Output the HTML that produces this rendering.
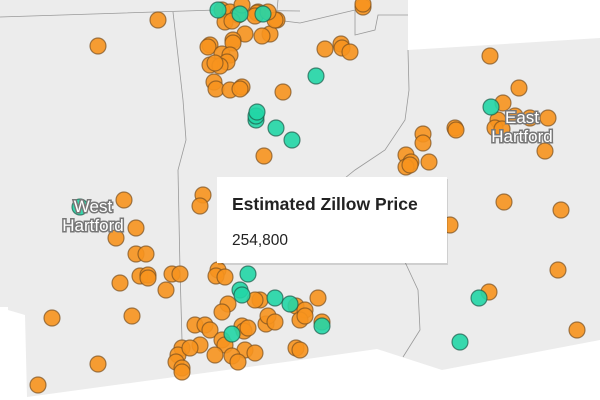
<!DOCTYPE html>
<html><head><meta charset="utf-8"><style>
html,body{margin:0;padding:0;background:#fff;}
svg{display:block;font-family:"Liberation Sans",sans-serif;}
.o{fill:#f7931e;fill-opacity:.9;stroke:#7a5020;stroke-opacity:.7;stroke-width:1.2}
.t{fill:#22d6a6;fill-opacity:.9;stroke:#1c5a48;stroke-opacity:.7;stroke-width:1.2}
.lbl{fill:#fff;stroke:#777;stroke-width:3;paint-order:stroke;font-size:17px;text-anchor:middle;}
</style></head><body>
<svg width="600" height="400" viewBox="0 0 600 400">
<rect width="600" height="400" fill="#fff"/>
<polygon fill="#ececec" points="0,0 408,0 408,50 600,38 600,340 442,370 377,349 300,360 27,397 25,315 8,310 8,307 0,307"/>
<g fill="none" stroke="#999" stroke-width="0.8">
<polyline points="0,17 216,10 300,11"/>
<polyline points="173,12 183,100 186,140 178,170 180,270 182,340"/>
<polyline points="300,23 355,10 355,35 375,30 378,15 408,15"/>
<polyline points="408,50 409,90 405,120 385,150 355,170 345,178"/>
<polyline points="405,262 418,290 420,330 403,357"/>
<polyline points="278,0 276,20 300,23"/>
</g>
<g>
<circle class="o" cx="158" cy="20" r="8"/><circle class="o" cx="98" cy="46" r="8"/>
<circle class="o" cx="222" cy="10" r="8"/><circle class="o" cx="230" cy="12" r="8"/><circle class="o" cx="238" cy="15" r="8"/><circle class="o" cx="242" cy="5" r="8"/><circle class="o" cx="258" cy="12" r="8"/>
<circle class="o" cx="257" cy="13" r="8"/><circle class="o" cx="277" cy="20" r="8"/><circle class="o" cx="225" cy="22" r="8"/><circle class="o" cx="232" cy="21" r="8"/><circle class="o" cx="255" cy="16" r="8"/>
<circle class="o" cx="270" cy="34" r="8"/><circle class="o" cx="262" cy="36" r="8"/><circle class="o" cx="275" cy="20" r="8"/><circle class="o" cx="268" cy="12" r="8"/>
<circle class="o" cx="245" cy="34" r="8"/><circle class="o" cx="233" cy="40" r="8"/><circle class="o" cx="233" cy="43" r="8"/><circle class="o" cx="210" cy="45" r="8"/><circle class="o" cx="208" cy="47" r="8"/>
<circle class="o" cx="222" cy="54" r="8"/><circle class="o" cx="230" cy="55" r="8"/><circle class="o" cx="227" cy="62" r="8"/><circle class="o" cx="210" cy="65" r="8"/><circle class="o" cx="220" cy="66" r="8"/><circle class="o" cx="215" cy="63" r="8"/>
<circle class="o" cx="214" cy="82" r="8"/><circle class="o" cx="216" cy="89" r="8"/><circle class="o" cx="230" cy="90" r="8"/><circle class="o" cx="242" cy="87" r="8"/><circle class="o" cx="240" cy="89" r="8"/><circle class="o" cx="283" cy="92" r="8"/>
<circle class="o" cx="264" cy="156" r="8"/><circle class="o" cx="203" cy="195" r="8"/><circle class="o" cx="124" cy="200" r="8"/>
<circle class="t" cx="218" cy="10" r="8"/><circle class="t" cx="263" cy="14" r="8"/><circle class="t" cx="240" cy="14" r="8"/>
<circle class="t" cx="256" cy="120" r="8"/><circle class="t" cx="256" cy="116" r="8"/><circle class="t" cx="257" cy="112" r="8"/><circle class="t" cx="276" cy="128" r="8"/><circle class="t" cx="292" cy="140" r="8"/>
<circle class="o" cx="363" cy="7" r="8"/><circle class="o" cx="363" cy="4" r="8"/><circle class="o" cx="325" cy="49" r="8"/><circle class="o" cx="341" cy="44" r="8"/><circle class="o" cx="342" cy="48" r="8"/><circle class="o" cx="350" cy="52" r="8"/>
<circle class="t" cx="316" cy="76" r="8"/>
<circle class="o" cx="490" cy="56" r="8"/><circle class="o" cx="519" cy="88" r="8"/><circle class="o" cx="503" cy="103" r="8"/><circle class="o" cx="548" cy="118" r="8"/><circle class="o" cx="545" cy="151" r="8"/>
<circle class="o" cx="498" cy="120" r="8"/><circle class="o" cx="495" cy="128" r="8"/><circle class="o" cx="502" cy="129" r="8"/><circle class="o" cx="515" cy="116" r="8"/><circle class="o" cx="530" cy="118" r="8"/>
<circle class="o" cx="455" cy="128" r="8"/><circle class="o" cx="456" cy="130" r="8"/><circle class="o" cx="423" cy="134" r="8"/><circle class="o" cx="423" cy="143" r="8"/>
<circle class="o" cx="406" cy="155" r="8"/><circle class="o" cx="411" cy="162" r="8"/><circle class="o" cx="406" cy="167" r="8"/><circle class="o" cx="410" cy="165" r="8"/><circle class="o" cx="429" cy="162" r="8"/>
<circle class="t" cx="491" cy="107" r="8"/>
<circle class="o" cx="136" cy="228" r="8"/><circle class="o" cx="116" cy="238" r="8"/><circle class="o" cx="136" cy="254" r="8"/><circle class="o" cx="146" cy="254" r="8"/>
<circle class="o" cx="140" cy="276" r="8"/><circle class="o" cx="148" cy="275" r="8"/><circle class="o" cx="148" cy="278" r="8"/><circle class="o" cx="172" cy="274" r="8"/><circle class="o" cx="180" cy="274" r="8"/>
<circle class="o" cx="166" cy="290" r="8"/><circle class="o" cx="120" cy="283" r="8"/><circle class="o" cx="132" cy="316" r="8"/><circle class="o" cx="52" cy="318" r="8"/><circle class="o" cx="98" cy="364" r="8"/><circle class="o" cx="38" cy="385" r="8"/>
<circle class="o" cx="200" cy="206" r="8"/><circle class="o" cx="218" cy="270" r="8"/><circle class="o" cx="216" cy="276" r="8"/><circle class="o" cx="225" cy="277" r="8"/>
<circle class="o" cx="296" cy="306" r="8"/><circle class="o" cx="260" cy="300" r="8"/><circle class="o" cx="255" cy="300" r="8"/><circle class="o" cx="228" cy="304" r="8"/><circle class="o" cx="222" cy="312" r="8"/>
<circle class="o" cx="195" cy="325" r="8"/><circle class="o" cx="205" cy="325" r="8"/><circle class="o" cx="210" cy="330" r="8"/><circle class="o" cx="242" cy="326" r="8"/><circle class="o" cx="244" cy="331" r="8"/>
<circle class="o" cx="266" cy="324" r="8"/><circle class="o" cx="248" cy="328" r="8"/><circle class="o" cx="268" cy="316" r="8"/><circle class="o" cx="275" cy="322" r="8"/><circle class="o" cx="245" cy="350" r="8"/>
<circle class="o" cx="200" cy="345" r="8"/><circle class="o" cx="222" cy="340" r="8"/><circle class="o" cx="225" cy="345" r="8"/><circle class="o" cx="215" cy="355" r="8"/><circle class="o" cx="232" cy="356" r="8"/><circle class="o" cx="238" cy="362" r="8"/><circle class="o" cx="255" cy="353" r="8"/>
<circle class="o" cx="182" cy="348" r="8"/><circle class="o" cx="178" cy="355" r="8"/><circle class="o" cx="190" cy="348" r="8"/><circle class="o" cx="176" cy="362" r="8"/><circle class="o" cx="182" cy="368" r="8"/><circle class="o" cx="182" cy="372" r="8"/><circle class="o" cx="296" cy="348" r="8"/>
<circle class="o" cx="318" cy="298" r="8"/><circle class="o" cx="322" cy="322" r="8"/><circle class="o" cx="305" cy="310" r="8"/><circle class="o" cx="300" cy="320" r="8"/><circle class="o" cx="305" cy="316" r="8"/><circle class="o" cx="300" cy="350" r="8"/>
<circle class="t" cx="248" cy="274" r="8"/><circle class="t" cx="240" cy="290" r="8"/><circle class="t" cx="242" cy="295" r="8"/><circle class="t" cx="275" cy="298" r="8"/><circle class="t" cx="290" cy="304" r="8"/><circle class="t" cx="232" cy="334" r="8"/><circle class="t" cx="322" cy="326" r="8"/>
<circle class="o" cx="504" cy="202" r="8"/><circle class="o" cx="561" cy="210" r="8"/><circle class="o" cx="450" cy="225" r="8"/><circle class="o" cx="558" cy="270" r="8"/><circle class="o" cx="489" cy="292" r="8"/><circle class="o" cx="577" cy="330" r="8"/>
<circle class="t" cx="479" cy="298" r="8"/><circle class="t" cx="460" cy="342" r="8"/><circle class="t" cx="80" cy="207" r="8"/>
</g>
<text class="lbl" x="93" y="212">West</text>
<text class="lbl" x="93" y="231">Hartford</text>
<text class="lbl" x="522" y="123">East</text>
<text class="lbl" x="522" y="142">Hartford</text>
<rect x="218" y="179" width="230" height="86" fill="#000" opacity=".12"/>
<rect x="217" y="177" width="230" height="86" fill="#fff"/>
<text x="232" y="210" font-size="17.5" font-weight="bold" fill="#222">Estimated Zillow Price</text>
<text x="232" y="245" font-size="15.5" fill="#222">254,800</text>
</svg>
</body></html>
